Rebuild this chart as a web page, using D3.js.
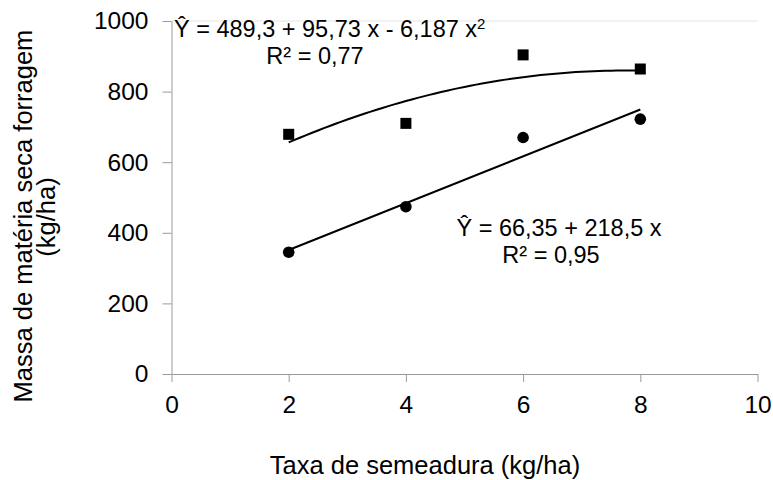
<!DOCTYPE html>
<html lang="pt">
<head>
<meta charset="UTF-8">
<script src="https://d3js.org/d3.v7.min.js"></script>
<style>
  body { margin: 0; background: #fff; }
  text { font-family: "Liberation Sans", Arial, sans-serif; fill: #000; }
</style>
</head>
<body>
<script>
// Data
const doses = [2, 4, 6, 8];
const seriesSquare = [679, 710, 904, 864];
const seriesCircle = [345, 474, 670, 722];
const xTicks = [0, 2, 4, 6, 8, 10];
const yTicks = [0, 200, 400, 600, 800, 1000];
// trendline coefficients (constant, linear, quadratic)
const quadCoef = [489.3, 95.73, -6.187];
const linCoef = [218.5, 66.35];

const W = 773, H = 480;
const svg = d3.select('body').append('svg')
    .attr('width', W)
    .attr('height', H);

const x = d3.scaleLinear().domain([0, 10]).range([171.5, 757.5]);
const y = d3.scaleLinear().domain([0, 1000]).range([374, 21]);

// light top border
svg.append('line')
    .attr('x1', x(0)).attr('x2', x(10))
    .attr('y1', y(1000)).attr('y2', y(1000))
    .attr('stroke', '#e4e4e4').attr('stroke-width', 1);

// Axes
const xAxis = svg.append('g')
    .attr('transform', `translate(0, ${y(0)})`)
    .call(d3.axisBottom(x).tickValues(xTicks).tickFormat(d3.format('d'))
        .tickSize(8).tickSizeOuter(0).tickPadding(14));

const yAxis = svg.append('g')
    .attr('transform', `translate(${x(0)}, 0)`)
    .call(d3.axisLeft(y).tickValues(yTicks).tickFormat(d3.format('d'))
        .tickSize(9).tickSizeOuter(0).tickPadding(14));

[xAxis, yAxis].forEach(function (g) {
    g.select('.domain').attr('stroke', '#9a9a9a');
    g.selectAll('.tick line').attr('stroke', '#9a9a9a');
    g.selectAll('.tick text')
        .attr('font-size', '24.5px')
        .attr('font-family', '"Liberation Sans", Arial, sans-serif')
        .attr('fill', '#222');
});

// Trendlines
const curveX = d3.range(2, 8.001, 0.1);
const line = d3.line().x(d => x(d[0])).y(d => y(d[1]));

svg.append('path')
    .datum(curveX.map(v => [v, quadCoef[0] + quadCoef[1] * v + quadCoef[2] * v * v]))
    .attr('d', line)
    .attr('fill', 'none')
    .attr('stroke', '#000')
    .attr('stroke-width', 2);

svg.append('path')
    .datum([2, 8].map(v => [v, linCoef[0] + linCoef[1] * v]))
    .attr('d', line)
    .attr('fill', 'none')
    .attr('stroke', '#000')
    .attr('stroke-width', 2);

// Points
svg.selectAll('.sq')
    .data(doses)
    .enter()
    .append('rect')
    .attr('x', (d) => x(d) - 5.5)
    .attr('y', (d, i) => y(seriesSquare[i]) - 5.5)
    .attr('width', 11)
    .attr('height', 11)
    .attr('fill', '#000');

svg.selectAll('.ci')
    .data(doses)
    .enter()
    .append('circle')
    .attr('cx', (d) => x(d))
    .attr('cy', (d, i) => y(seriesCircle[i]))
    .attr('r', 5.8)
    .attr('fill', '#000');

// Equations
const eq1 = svg.append('text')
    .attr('x', 174)
    .attr('y', 37)
    .attr('font-size', '23.5px')
    .attr('fill', '#222');
eq1.append('tspan').text('Ŷ = 489,3 + 95,73 x - 6,187 x');
eq1.append('tspan').attr('dy', -8).attr('font-size', '15px').text('2');

svg.append('text')
    .attr('x', 315)
    .attr('y', 64)
    .attr('text-anchor', 'middle')
    .attr('font-size', '23.5px')
    .attr('fill', '#222')
    .text('R² = 0,77');

svg.append('text')
    .attr('x', 559)
    .attr('y', 236)
    .attr('text-anchor', 'middle')
    .attr('font-size', '23.5px')
    .attr('fill', '#222')
    .text('Ŷ = 66,35 + 218,5 x');

svg.append('text')
    .attr('x', 551)
    .attr('y', 263)
    .attr('text-anchor', 'middle')
    .attr('font-size', '23.5px')
    .attr('fill', '#222')
    .text('R² = 0,95');

// Axis titles
svg.append('text')
    .attr('x', 425)
    .attr('y', 474)
    .attr('text-anchor', 'middle')
    .attr('font-size', '25.5px')
    .text('Taxa de semeadura (kg/ha)');

svg.append('text')
    .attr('transform', 'rotate(-90)')
    .attr('x', -216)
    .attr('y', 32)
    .attr('text-anchor', 'middle')
    .attr('font-size', '25.5px')
    .text('Massa de matéria seca forragem');

svg.append('text')
    .attr('transform', 'rotate(-90)')
    .attr('x', -217)
    .attr('y', 55)
    .attr('text-anchor', 'middle')
    .attr('font-size', '25.5px')
    .text('(kg/ha)');
</script>
</body>
</html>
